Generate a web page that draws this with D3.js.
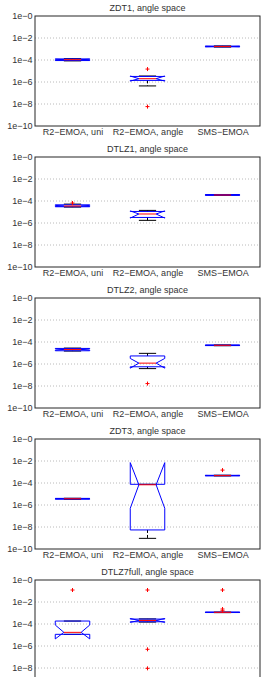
<!DOCTYPE html>
<html><head><meta charset="utf-8">
<script src="https://cdn.jsdelivr.net/npm/d3@7"></script>
<style>
body{margin:0;background:#fff}
svg{display:block}
text{font-family:"Liberation Sans",Arial,sans-serif;font-size:9px;fill:#333}
</style>
</head><body><svg id="c" width="263" height="677"></svg>
<script>
// ---- data ----
const titles = ["ZDT1, angle space","DTLZ1, angle space","DTLZ2, angle space","ZDT3, angle space","DTLZ7full, angle space"];
const methods = ["R2\u2212EMOA, uni","R2\u2212EMOA, angle","SMS\u2212EMOA"];
const yTickValues = [1,1e-2,1e-4,1e-6,1e-8,1e-10];
const yTickLabels = ["1e\u22120","1e\u22122","1e\u22124","1e\u22126","1e\u22128","1e\u221210"];

// per panel: [uni, angle, SMS]
const medians = [
  [1.07e-4, 2.0e-6, 1.7e-3],
  [3.5e-5, 6.6e-6, 3.5e-4],
  [2.1e-5, 1.2e-6, 5.0e-5],
  [3.7e-6, 6.9e-5, 4.7e-4],
  [1.74e-5, 2.1e-4, 1.15e-3]
];
const q1s = [
  [8.9e-5, 1.4e-6, 1.58e-3],
  [3.0e-5, 3.2e-6, 3.3e-4],
  [1.6e-5, 5.6e-7, 4.7e-5],
  [3.4e-6, 5.4e-9, 4.5e-4],
  [1.15e-5, 1.6e-4, 1.1e-3]
];
const q3s = [
  [1.26e-4, 3.2e-6, 1.82e-3],
  [4.5e-5, 1.12e-5, 3.8e-4],
  [2.6e-5, 5.4e-6, 5.3e-5],
  [4.0e-6, 7.6e-5, 5.0e-4],
  [1.86e-4, 2.8e-4, 1.2e-3]
];
const notchLo = [
  [9.5e-5, 1.2e-6, 1.62e-3],
  [3.2e-5, 2.8e-6, 3.4e-4],
  [1.8e-5, 4.2e-7, 4.8e-5],
  [3.5e-6, 5.0e-7, 4.6e-4],
  [4.4e-6, 1.4e-4, 1.12e-3]
];
const notchHi = [
  [1.17e-4, 3.5e-6, 1.78e-3],
  [4.0e-5, 1.26e-5, 3.7e-4],
  [2.4e-5, 3.2e-6, 5.2e-5],
  [3.9e-6, 7.1e-3, 4.9e-4],
  [8.1e-5, 3.2e-4, 1.18e-3]
];
const whiskerLo = [
  [8.3e-5, 4.4e-7, 1.5e-3],
  [2.8e-5, 1.74e-6, 3.2e-4],
  [1.5e-5, 3.8e-7, 4.6e-5],
  [3.3e-6, 9.3e-10, 4.4e-4],
  [1.15e-5, 1.5e-4, 1.08e-3]
];
const whiskerHi = [
  [1.32e-4, 3.5e-6, 1.9e-3],
  [5.2e-5, 1.4e-5, 3.9e-4],
  [2.8e-5, 9.3e-6, 5.4e-5],
  [4.1e-6, 7.6e-5, 5.1e-4],
  [1.86e-4, 2.9e-4, 1.22e-3]
];
const outliers = [
  [[], [1.5e-5, 5.8e-9], []],
  [[6.6e-5], [], []],
  [[], [1.66e-8], []],
  [[], [], [1.5e-3]],
  [[0.123], [0.123, 5.0e-7, 9.3e-9], [0.123, 2.3e-3, 1.6e-3]]
];

// ---- layout ----
const svg = d3.select("#c");
const L = 35, R = 260, H = 110, top0 = 16, pitch = 141;
const boxW = 0.46;
const x = d3.scaleLinear().domain([0.5, 3.5]).range([L, R]);
const y = d3.scaleLog().domain([1, 1e-10]).range([0, H]);
const FONT = '"Liberation Sans",Arial,sans-serif';

titles.forEach((t, p) => {
  const g = svg.append("g").attr("transform", `translate(0,${top0 + p * pitch})`);

  // grid
  g.selectAll("line.grid").data(yTickValues.slice(1, -1)).join("line")
    .attr("x1", L).attr("x2", R)
    .attr("y1", d => y(d)).attr("y2", d => y(d))
    .attr("stroke", "#a8a8a8").attr("stroke-width", 0.8)
    .attr("stroke-dasharray", "1,2");

  // title
  g.append("text").attr("x", (L + R) / 2).attr("y", -5.5)
    .attr("text-anchor", "middle").text(t);

  // y axis
  const ya = g.append("g").attr("transform", `translate(${L},0)`)
    .call(d3.axisLeft(y).tickValues(yTickValues)
      .tickFormat((d, i) => yTickLabels[i]).tickSize(0).tickPadding(2.5));
  ya.select(".domain").remove();
  ya.selectAll("text").style("font-family", FONT).style("font-size", "9px").attr("fill", "#333");

  // x axis
  const xa = g.append("g").attr("transform", `translate(0,${H})`)
    .call(d3.axisBottom(x).tickValues([1, 2, 3])
      .tickFormat((d, i) => methods[i]).tickSize(0).tickPadding(2.5));
  xa.select(".domain").remove();
  xa.selectAll("text").style("font-family", FONT).style("font-size", "9px").attr("fill", "#333");

  // boxes
  methods.forEach((m, i) => {
    const pos = i + 1;
    const bl = x(pos - boxW / 2), br = x(pos + boxW / 2);
    const cl = x(pos - boxW / 4), cr = x(pos + boxW / 4);
    const med = y(medians[p][i]), a = y(q1s[p][i]), b = y(q3s[p][i]);
    const nlo = y(notchLo[p][i]), nhi = y(notchHi[p][i]);
    const wlo = y(whiskerLo[p][i]), whi = y(whiskerHi[p][i]);
    const cx = x(pos);

    // whiskers (dashed)
    g.append("path")
      .attr("d", `M${cx},${b}V${whi}M${cx},${a}V${wlo}`)
      .attr("stroke", "#000").attr("stroke-width", 1).attr("fill", "none")
      .attr("stroke-dasharray", "3,2");
    // caps
    g.append("path")
      .attr("d", `M${cl},${whi}H${cr}M${cl},${wlo}H${cr}`)
      .attr("stroke", "#000").attr("stroke-width", 1).attr("fill", "none");

    // notched box
    const pts = [[bl, a], [br, a], [br, nlo], [cr, med], [br, nhi], [br, b],
                 [bl, b], [bl, nhi], [cl, med], [bl, nlo], [bl, a]];
    g.append("path").attr("d", d3.line()(pts))
      .attr("stroke", "#0000ff").attr("stroke-width", 1).attr("fill", "none");

    // median
    g.append("line").attr("x1", cl).attr("x2", cr).attr("y1", med).attr("y2", med)
      .attr("stroke", "#ff0000").attr("stroke-width", 1);

    // outliers
    outliers[p][i].forEach(v => {
      const oy = y(v);
      g.append("path").attr("d", `M${cx - 2},${oy}H${cx + 2}M${cx},${oy - 2}V${oy + 2}`)
        .attr("stroke", "#ff0000").attr("stroke-width", 1).attr("fill", "none");
    });
  });

  // frame
  g.append("rect").attr("x", L).attr("y", 0).attr("width", R - L).attr("height", H)
    .attr("fill", "none").attr("stroke", "#262626").attr("stroke-width", 1);
});
</script>
</body></html>
